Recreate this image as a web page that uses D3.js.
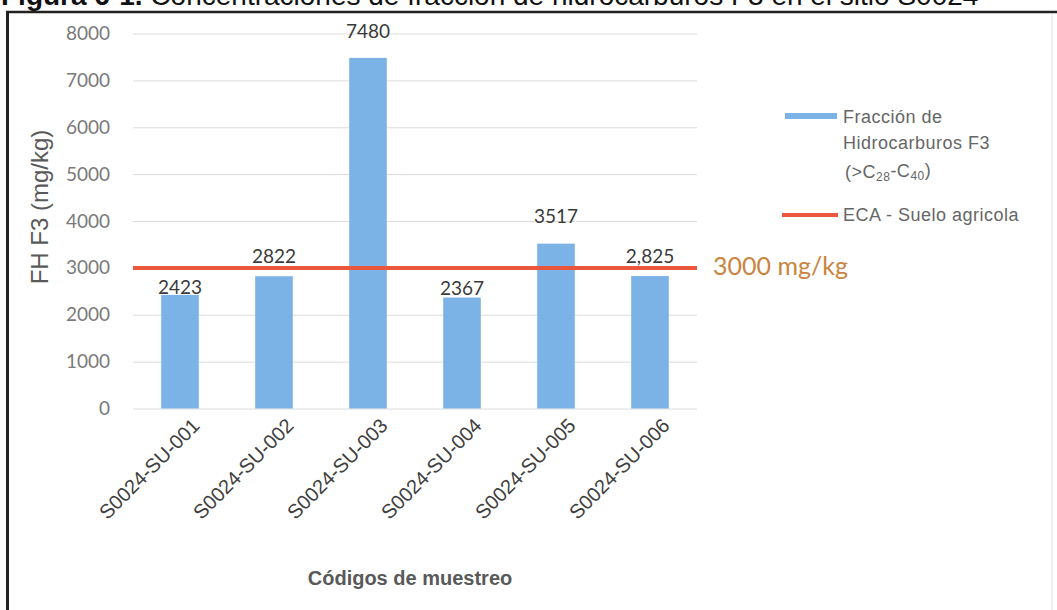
<!DOCTYPE html>
<html>
<head>
<meta charset="utf-8">
<script src="https://cdn.jsdelivr.net/npm/d3@7"></script>
<style>
  body { margin: 0; background: #fff; }
  svg { display: block; }
</style>
</head>
<body>
<script>
// muestras y concentraciones de FH F3 (mg/kg)
const codigos = ['S0024-SU-001', 'S0024-SU-002', 'S0024-SU-003', 'S0024-SU-004', 'S0024-SU-005', 'S0024-SU-006'];
const valores = [2423, 2822, 7480, 2367, 3517, 2825];
const etiquetas = ['2423', '2822', '7480', '2367', '3517', '2,825'];
const ticksY = [0, 1000, 2000, 3000, 4000, 5000, 6000, 7000, 8000];
const limiteECA = 3000;

function draw() {
    const width = 1057;
    const height = 610;

    const svg = d3.select('body').append('svg')
        .attr('width', width)
        .attr('height', height);

    // titulo recortado arriba (como en la figura original)
    const titulo = svg.append('text')
        .attr('x', 1)
        .attr('y', 5)
        .attr('font-family', 'Liberation Sans, Arial, sans-serif')
        .attr('font-size', 28)
        .attr('fill', '#111');
    titulo.append('tspan').attr('font-weight', 'bold').text('Figura 6-1.');
    titulo.append('tspan').text(' Concentraciones de fracción de hidrocarburos F3 en el sitio S0024');

    // marco
    svg.append('line')
        .attr('x1', 6).attr('x2', width).attr('y1', 12).attr('y2', 12)
        .attr('stroke', '#222').attr('stroke-width', 2.5);
    svg.append('line')
        .attr('x1', 7.5).attr('x2', 7.5).attr('y1', 11).attr('y2', height)
        .attr('stroke', '#222').attr('stroke-width', 3);
    svg.append('line')
        .attr('x1', 1052).attr('x2', 1052).attr('y1', 14).attr('y2', height)
        .attr('stroke', '#e4e4e4').attr('stroke-width', 1);

    const X = d3.scaleBand()
        .domain(codigos)
        .range([133, 697])
        .paddingInner(0.6)
        .paddingOuter(0.3);

    const Y = d3.scaleLinear()
        .domain([0, 8000])
        .range([408.5, 33.5]);

    // rejilla
    svg.append('g')
        .attr('transform', 'translate(133 0)')
        .call(d3.axisLeft(Y).tickValues(ticksY).tickSize(-564).tickFormat(''))
        .call(g => g.select('.domain').remove())
        .call(g => g.selectAll('.tick line').attr('stroke', '#dcdcdc'));

    // eje y
    svg.append('g')
        .attr('transform', 'translate(133 0)')
        .call(d3.axisLeft(Y).tickValues(ticksY).tickSize(0).tickPadding(23).tickFormat(d3.format('d')))
        .call(g => g.select('.domain').remove())
        .call(g => g.selectAll('text')
            .attr('font-family', 'Lato, sans-serif')
            .attr('font-size', 19)
            .attr('fill', '#7a7a7a'));

    // barras
    svg.selectAll('rect.barra')
        .data(valores)
        .join('rect')
        .attr('class', 'barra')
        .attr('x', (d, i) => X(codigos[i]))
        .attr('width', X.bandwidth())
        .attr('y', d => Y(d))
        .attr('height', d => Y(0) - Y(d))
        .attr('fill', '#7cb3e6');

    // etiquetas de datos (colocadas a mano en el original)
    const elevacion = [8, 20, 27, 9.5, 27, 20];
    svg.selectAll('text.valor')
        .data(valores)
        .join('text')
        .attr('class', 'valor')
        .attr('x', (d, i) => X(codigos[i]) + X.bandwidth() / 2)
        .attr('y', (d, i) => Y(d) - elevacion[i])
        .attr('dy', '0.35em')
        .attr('text-anchor', 'middle')
        .attr('font-family', 'Lato, sans-serif')
        .attr('font-size', 19)
        .attr('fill', '#3a3a3a')
        .text((d, i) => etiquetas[i]);

    // linea ECA
    svg.append('line')
        .attr('x1', 133).attr('x2', 697)
        .attr('y1', Y(limiteECA)).attr('y2', Y(limiteECA))
        .attr('stroke', '#ea573c').attr('stroke-width', 4);

    svg.append('text')
        .attr('x', 713)
        .attr('y', Y(limiteECA) - 2)
        .attr('dy', '0.35em')
        .attr('font-family', 'Lato, sans-serif')
        .attr('font-size', 25)
        .attr('fill', '#c98540')
        .text(limiteECA + ' mg/kg');

    // etiquetas eje x
    svg.append('g')
        .selectAll('text')
        .data(codigos)
        .join('text')
        .attr('transform', d => `translate(${X(d) + X.bandwidth() / 2 + 16} 422) rotate(-45)`)
        .attr('text-anchor', 'end')
        .attr('dy', '0.35em')
        .attr('font-family', 'Liberation Sans, Arial, sans-serif')
        .attr('font-size', 20)
        .attr('fill', '#404040')
        .text(d => d);

    // titulos de ejes
    svg.append('text')
        .attr('transform', 'translate(48 207) rotate(-90)')
        .attr('text-anchor', 'middle')
        .attr('font-family', 'Liberation Sans, Arial, sans-serif')
        .attr('font-size', 24)
        .attr('fill', '#595959')
        .text('FH F3 (mg/kg)');

    svg.append('text')
        .attr('x', 410)
        .attr('y', 585)
        .attr('text-anchor', 'middle')
        .attr('font-family', 'Liberation Sans, Arial, sans-serif')
        .attr('font-weight', 'bold')
        .attr('font-size', 20)
        .attr('fill', '#595959')
        .text('Códigos de muestreo');

    // leyenda
    const ley = svg.append('g')
        .attr('font-family', 'Liberation Sans, Arial, sans-serif')
        .attr('font-size', 18)
        .attr('fill', '#666');

    ley.append('line')
        .attr('x1', 785).attr('x2', 837).attr('y1', 116).attr('y2', 116)
        .attr('stroke', '#7cb3e6').attr('stroke-width', 6);
    ley.append('text').attr('x', 843).attr('y', 117).attr('dy', '0.35em').attr('letter-spacing', 0.5).text('Fracción de');
    ley.append('text').attr('x', 843).attr('y', 143).attr('dy', '0.35em').attr('letter-spacing', 0.5).text('Hidrocarburos F3');
    const sub = ley.append('text').attr('x', 845).attr('y', 172).attr('dy', '0.35em').attr('letter-spacing', 0.5);
    sub.append('tspan').text('(>C');
    sub.append('tspan').attr('font-size', 12).attr('dy', '0.2em').text('28');
    sub.append('tspan').attr('dy', '-0.2em').text('-C');
    sub.append('tspan').attr('font-size', 12).attr('dy', '0.2em').text('40');
    sub.append('tspan').attr('dy', '-0.2em').text(')');

    ley.append('line')
        .attr('x1', 782).attr('x2', 838).attr('y1', 215).attr('y2', 215)
        .attr('stroke', '#ea573c').attr('stroke-width', 4);
    ley.append('text').attr('x', 843).attr('y', 215).attr('dy', '0.35em').attr('letter-spacing', 0.5).text('ECA - Suelo agricola');
}

draw();
</script>
</body>
</html>
